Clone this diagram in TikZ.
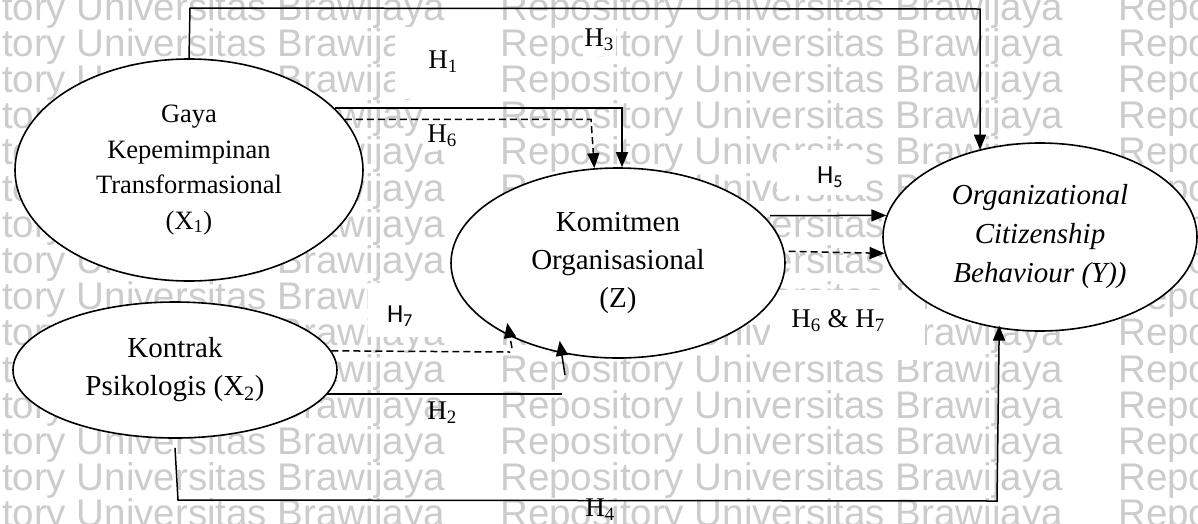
\documentclass[tikz,border=0pt]{standalone}
\usepackage{fontspec}
\setmainfont{Liberation Serif}
\newfontfamily\wmfont{Liberation Sans}
\newfontfamily\calfont{Carlito}
\usetikzlibrary{arrows.meta,shapes.geometric}

\begin{document}
\begin{tikzpicture}[x=1pt,y=-1pt,
  construct/.style={ellipse, draw, line width=1.6pt, fill=white, inner sep=0pt, align=center},
  link/.style={line width=1.5pt},
  arr/.style={link, -{Triangle[length=15pt,width=12pt]}},
  dlink/.style={link, dash pattern=on 7pt off 4pt},
  hlabel/.style={font=\fontsize{27}{30}\selectfont, inner sep=0pt},
  slabel/.style={font=\calfont\fontsize{26}{28}\selectfont, inner sep=0pt},
  wm/.style={font=\wmfont\fontsize{38.5}{40}\selectfont, text=black!20, anchor=base west, inner sep=0pt}
]
\useasboundingbox (0,0) rectangle (1198,523);
\clip (0,0) rectangle (1198,523);

% repeated repository watermark
\foreach \r in {0,...,14} {
  \foreach \c in {0,1,2} {
    \node[wm] at ({-118+618*\c}, {20+36.2*\r}) {Repository Universitas Brawijaya};
  }
}

% text boxes hiding the watermark behind the labels
\fill[white] (395,27) rectangle (490,99);
\fill[white] (583,25) rectangle (616,56);
\fill[white] (424,100) rectangle (492,150);
\fill[white] (777,150) rectangle (866,195);
\fill[white] (368,283) rectangle (446,337);
\fill[white] (770,290) rectangle (925,360);

% constructs
\node[construct, minimum width=348pt, minimum height=222pt,
      font=\fontsize{26.5}{35.5}\selectfont] (x1) at (189,170)
  {Gaya\\Kepemimpinan\\Transformasional\\(X\textsubscript{1})};
\node[construct, minimum width=324pt, minimum height=136pt,
      font=\fontsize{29}{38}\selectfont] (x2) at (175,370)
  {Kontrak\\Psikologis (X\textsubscript{2})};
\node[construct, minimum width=334pt, minimum height=190pt,
      font=\fontsize{29}{38}\selectfont] (z) at (618,263)
  {Komitmen\\Organisasional\\(Z)};
\node[construct, minimum width=314pt, minimum height=188pt,
      font=\itshape\fontsize{29}{39}\selectfont] (y) at (1040,237)
  {Organizational\\Citizenship\\Behaviour (Y))};

% corner points of the routed connectors
\coordinate (h3l) at (190,8);
\coordinate (h3r) at (980,9);
\coordinate (h1c) at (622,0);
\coordinate (h6c) at (591,0);
\coordinate (h2e) at (562,395);
\coordinate (h2a) at (565,375);
\coordinate (h7e) at (510,352);
\coordinate (h7a) at (512,348);
\coordinate (h4l) at (178,500);
\coordinate (h4r) at (997,501);

% H3: X1 -> Y
\draw[arr] (x1.north) -- (h3l) -- (h3r) -- (h3r |- y.125);
% H1: X1 -> Z
\draw[arr] (x1.23.6) -- (x1.23.6 -| h1c) -- (h1c |- z.north);
% H6: X1 -> Z (mediated)
\draw[dlink, -{Triangle[length=15pt,width=12pt]}] (x1.18.7) -- (x1.18.7 -| h6c) -- (z.104);
% H5: Z -> Y, and mediated path
\draw[arr] ([xshift=6pt]z.18) -- (y.172.6);
\draw[dlink, -{Triangle[length=15pt,width=12pt]}] ([xshift=4pt]z.4) -- (y.186.6);
% H2: X2 -> Z
\draw[link] (x2.351.5) -- (x2.351.5 -| h2e);
\draw[arr] (h2a) -- ([yshift=12pt]z.237);
% H7: X2 -> Z (mediated)
\draw[dlink] (x2.7.6) -- (h7e);
\draw[dlink, -{Triangle[length=15pt,width=12pt]}] (h7a) -- ([yshift=12pt]z.213);
% H4: X2 -> Y
\draw[arr] ([yshift=-9pt]x2.south) -- (h4l) -- (h4r) -- ([yshift=3pt]y.246);

% hypothesis labels
\node[hlabel] (lh3) at (599,40) {H\textsubscript{3}};
\node[hlabel] (lh1) at (443,62) {H\textsubscript{1}};
\node[hlabel] (lh6) at (442,136) {H\textsubscript{6}};
\node[slabel] (lh5) at (830,177) {H\textsubscript{5}};
\node[slabel] (lh7) at (400,316) {H\textsubscript{7}};
\node[hlabel] (lh67) at (838,321) {H\textsubscript{6} \& H\textsubscript{7}};
\node[hlabel] (lh2) at (442,413) {H\textsubscript{2}};
\node[hlabel] (lh4) at (600,510) {H\textsubscript{4}};
\end{tikzpicture}
\end{document}
